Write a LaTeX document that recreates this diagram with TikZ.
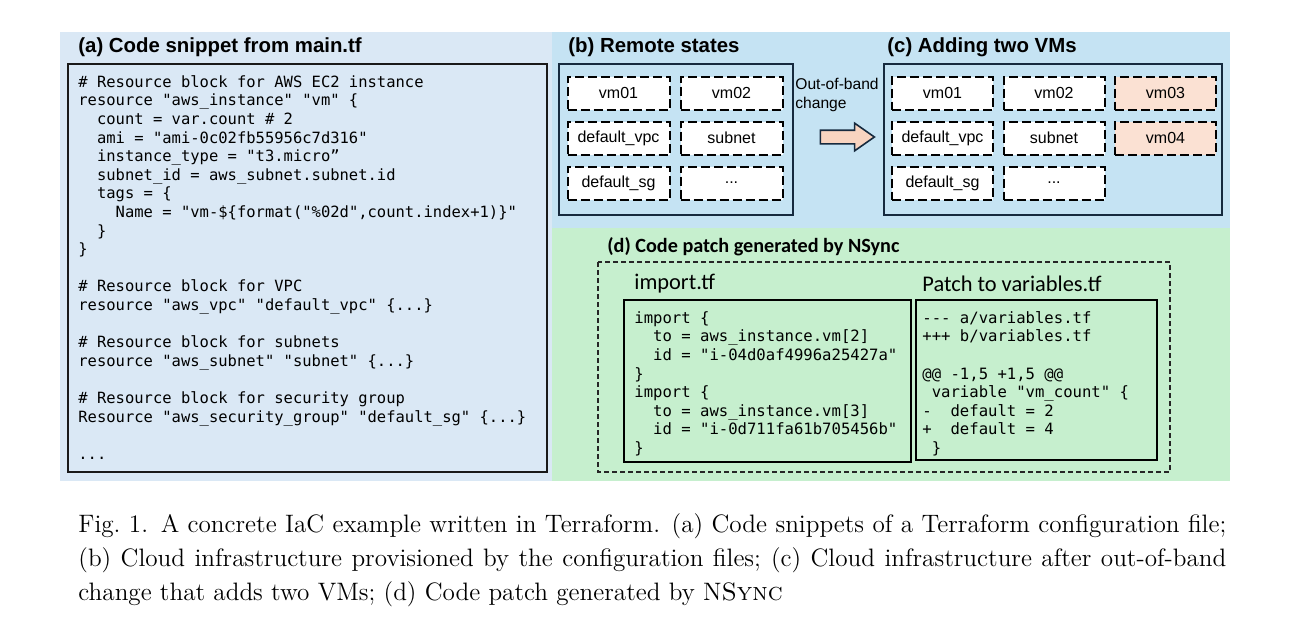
\documentclass[tikz,border=0pt]{standalone}
\usepackage{fontspec}
\setmonofont{DejaVu Sans Mono}
\newfontfamily\labelfont{Liberation Sans}
\newfontfamily\narrowfont{Carlito}
\usetikzlibrary{shapes.arrows, positioning}

\definecolor{paneA}{RGB}{218,232,245}
\definecolor{paneB}{RGB}{197,227,243}
\definecolor{paneD}{RGB}{198,239,206}
\definecolor{peach}{RGB}{251,225,211}
\definecolor{arrowpeach}{RGB}{248,212,192}
\definecolor{navy}{RGB}{22,42,62}

\tikzset{
  title/.style={anchor=west, inner sep=0pt, font=\labelfont\bfseries\fontsize{10.2}{12}\selectfont},
  res/.style={draw=black, dash pattern=on 4.5pt off 2pt, line width=1pt, fill=white, minimum width=51pt, minimum height=16.5pt, inner sep=0pt, font=\labelfont\fontsize{8}{9}\selectfont},
  newres/.style={res, fill=peach},
  statebox/.style={draw=navy, line width=1pt},
  code/.style={anchor=north west, align=left, inner sep=0pt, font=\ttfamily\fontsize{7.75}{9.3}\selectfont},
  filelabel/.style={anchor=west, inner sep=0pt, font=\narrowfont\fontsize{11.2}{13}\selectfont},
  filebox/.style={draw=black, line width=1.2pt},
  oobshift/.style={single arrow, draw=navy, fill=arrowpeach, line width=0.8pt, minimum width=13pt, minimum height=27pt, single arrow head extend=3.5pt, single arrow tip angle=70, inner sep=3pt},
}

\begin{document}
\begin{tikzpicture}[x=0.5pt, y=-0.5pt]
	\useasboundingbox (0,0) rectangle (1291,643);

	% panel backgrounds
	\fill[paneA] (60,32) rectangle (552,481);
	\fill[paneB] (552,32) rectangle (1230,228);
	\fill[paneD] (552,228) rectangle (1230,481);

	% (a) code snippet
	\node[title] (titleA) at (78,47) {(a) Code snippet from main.tf};
	\draw[line width=1pt, draw=black!90] (68,64) rectangle (547,472);
	\node[code] (maincode) at (78,75) {\# Resource block for AWS EC2 instance\\
resource "aws\_instance" "vm" \{\\
~~count = var.count \# 2\\
~~ami = "ami-0c02fb55956c7d316"\\
~~instance\_type = "t3.micro”\\
~~subnet\_id = aws\_subnet.subnet.id\\
~~tags = \{\\
~~~~Name = "vm-\$\{format("\%02d",count.index+1)\}"\\
~~\}\\
\}\\
~\\
\# Resource block for VPC\\
resource "aws\_vpc" "default\_vpc" \{...\}\\
~\\
\# Resource block for subnets\\
resource "aws\_subnet" "subnet" \{...\}\\
~\\
\# Resource block for security group\\
Resource "aws\_security\_group" "default\_sg" \{...\}\\
~\\
...};

	% (b) remote states
	\node[title] (titleB) at (568,47) {(b) Remote states};
	\draw[statebox] (559,64) rectangle (793,215);
	\node[res] (bvm01) at (618.5,93) {vm01};
	\node[res] (bvm02) at (731.5,93) {vm02};
	\node[res] (bvpc) at (618.5,138) {default\_vpc};
	\node[res] (bsubnet) at (731.5,138) {subnet};
	\node[res] (bsg) at (618.5,183) {default\_sg};
	\node[res] (bmore) at (731.5,183) {...};

	% out-of-band change
	\node[anchor=north west, align=left, inner sep=0pt, font=\labelfont\fontsize{7.8}{9.5}\selectfont] (oobtext) at (795,78) {Out-of-band\\change};
	\node[oobshift] (oobarrow) at (842.5,137) {};

	% (c) adding two VMs
	\node[title] (titleC) at (887,47) {(c) Adding two VMs};
	\draw[statebox] (884,64) rectangle (1222,215);
	\node[res, minimum width=50.5pt] (cvm01) at (942.5,93) {vm01};
	\node[res, minimum width=50.5pt] (cvm02) at (1054,93) {vm02};
	\node[newres, minimum width=50.5pt] (cvm03) at (1165.5,93) {vm03};
	\node[res, minimum width=50.5pt] (cvpc) at (942.5,138) {default\_vpc};
	\node[res, minimum width=50.5pt] (csubnet) at (1054,138) {subnet};
	\node[newres, minimum width=50.5pt] (cvm04) at (1165.5,138) {vm04};
	\node[res, minimum width=50.5pt] (csg) at (942.5,183) {default\_sg};
	\node[res, minimum width=50.5pt] (cmore) at (1054,183) {...};

	% (d) code patch
	\node[title, font=\narrowfont\bfseries\fontsize{10.1}{12}\selectfont] (titleD) at (607,247) {(d) Code patch generated by NSync};
	\draw[draw=black!85, line width=0.8pt, dash pattern=on 2.5pt off 1.5pt] (598,262) rectangle (1170,472);
	\node[filelabel] (importlabel) at (634,284) {import.tf};
	\node[filelabel] (patchlabel) at (922,284) {Patch to variables.tf};
	\draw[filebox] (624,300) rectangle (911,462);
	\draw[filebox] (916,300) rectangle (1157,460);
	\node[code, font=\ttfamily\fontsize{7.8}{9.3}\selectfont] (importcode) at (634,311) {import \{\\
~~to = aws\_instance.vm[2]\\
~~id = "i-04d0af4996a25427a"\\
\}\\
import \{\\
~~to = aws\_instance.vm[3]\\
~~id = "i-0d711fa61b705456b"\\
\}};
	\node[code, font=\ttfamily\fontsize{7.8}{9.3}\selectfont] (patchcode) at (922,311) {--- a/variables.tf\\
+++ b/variables.tf\\
~\\
@@ -1,5 +1,5 @@\\
~variable "vm\_count" \{\\
-~~default = 2\\
+~~default = 4\\
~\}};

	% caption
	\node[anchor=north west, inner sep=0pt, text width=574pt, align=justify, font=\fontsize{12.6}{17}\selectfont] (caption) at (78,513) {Fig.~1.\enspace A concrete IaC example written in Terraform. (a) Code snippets of a Terraform configuration file;\linebreak (b) Cloud infrastructure provisioned by the configuration files; (c) Cloud infrastructure after \mbox{out-of-band}\linebreak change that adds two VMs; (d) Code patch generated by N\textsc{Sync}};
\end{tikzpicture}
\end{document}
